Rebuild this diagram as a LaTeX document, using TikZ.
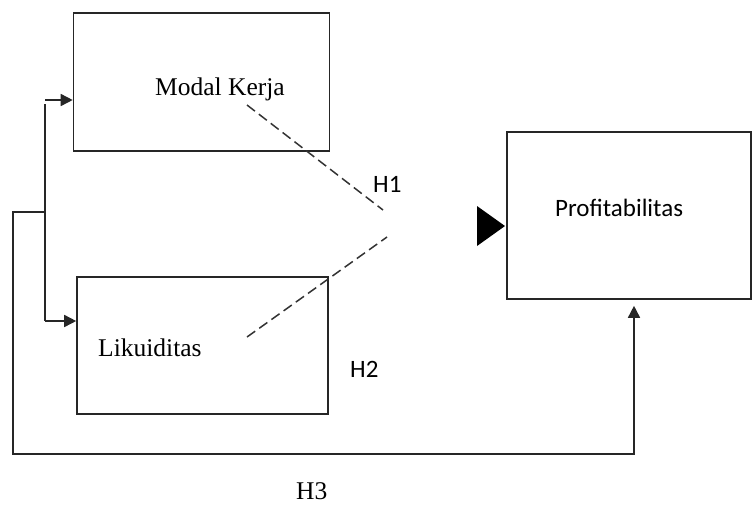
\documentclass[tikz,border=0pt]{standalone}
\usepackage{fontspec}
\setmainfont{Liberation Serif}
\newfontfamily\calibri{Carlito}
\usetikzlibrary{arrows.meta}
\begin{document}
\begin{tikzpicture}[x=1pt,y=-1pt,
  box/.style={draw=black!85,line width=1.6pt,minimum width=#1,inner sep=0pt},
  lbl/.style={anchor=base west,inner sep=0pt,font=\fontsize{25.5}{30}\selectfont},
  slbl/.style={anchor=base west,inner sep=0pt,font=\calibri\fontsize{25}{30}\selectfont},
  conn/.style={line width=1.6pt,draw=black!85},
  arr/.style={conn,-{Triangle[length=12pt,width=12pt]}},
  dsh/.style={line width=1.5pt,draw=black!80,dash pattern=on 10pt off 5pt}]
\useasboundingbox (0,0) rectangle (752,504);
% boxes
\node[box=256pt,minimum height=138pt] (mk) at (201.5,82) {};
\node[box=251pt,minimum height=137pt] (lq) at (202.5,345.5) {};
\node[box=244pt,minimum height=167pt] (pr) at (629,215.5) {};
% labels
\node[lbl] (mkt) at (155,95) {Modal Kerja};
\node[lbl] (lqt) at (98,356) {Likuiditas};
\node[slbl] (prt) at (555,216) {Profitabilitas};
\node[slbl] (h1) at (373,192) {H1};
\node[slbl] (h2) at (350,377) {H2};
\node[lbl] (h3) at (296,499.5) {H3};
% left connectors
\coordinate (j1) at (45,100);
\coordinate (j1b) at (45,104);
\coordinate (j2) at (45,321);
\coordinate (jm) at (45,212);
\coordinate (c1) at (13,212);
\coordinate (c2) at (13,454);
\coordinate (c3) at (634,454);
\draw[conn] (j1b) -- (j2);
\draw[arr] (j1) -- (j1 -| mk.west);
\draw[arr] (j2) -- (j2 -| lq.west);
\draw[arr,shorten >=6pt] (jm) -- (c1) -- (c2) -- (c3) -- (c3 |- pr.south);
% dashed lines
\coordinate (d1a) at (247,105);
\coordinate (d1b) at (383,210);
\coordinate (d2a) at (247,337);
\coordinate (d2b) at (387,237);
\draw[dsh] (d1a) -- (d1b);
\draw[dsh] (d2a) -- (d2b);
% big triangle
\coordinate (t1) at (477,206);
\coordinate (t2) at (505,226);
\coordinate (t3) at (477,246);
\fill[black] (t1) -- (t2) -- (t3) -- cycle;
\end{tikzpicture}
\end{document}
